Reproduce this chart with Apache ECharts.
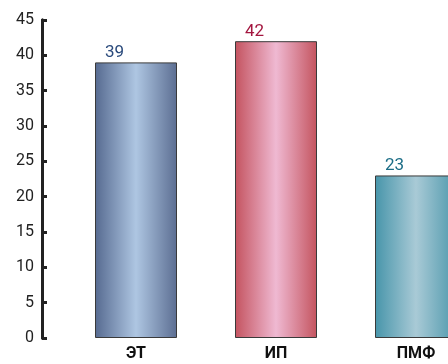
<!DOCTYPE html>
<html>
<head>
<meta charset="utf-8">
<script src="https://cdn.jsdelivr.net/npm/echarts@6/dist/echarts.min.js"></script>
<style>
  html, body { margin: 0; padding: 0; background: #fff; }
  #main { width: 448px; height: 364px; }
</style>
</head>
<body>
<div id="main"></div>
<script>
  var categories = ['ЭТ', 'ИП', 'ПМФ'];
  var values = [39, 42, 23];
  var yTicks = [0, 5, 10, 15, 20, 25, 30, 35, 40, 45];

  // edge / centre / edge colours for each bar, plus label colour
  var barColors = [
    ['#566a90', '#aec6e2', '#5c6e92'],
    ['#c4535f', '#efb9d2', '#c4545f'],
    ['#4795aa', '#a9cad6', '#4c97ab']
  ];
  var labelColors = ['#2a4a7c', '#a3163f', '#1b6d86'];

  function grad(c) {
    return new echarts.graphic.LinearGradient(0, 0, 1, 0, [
      { offset: 0, color: c[0] },
      { offset: 0.5, color: c[1] },
      { offset: 1, color: c[2] }
    ]);
  }

  var axisLineStyle = { color: '#222', width: 3 };

  var chart = echarts.init(document.getElementById('main'));
  chart.setOption({
    animation: false,
    grid: [
      { left: 66, top: 20, width: 420, height: 318, outerBoundsMode: 'none' },
      // thin grid that only carries the black y axis line + ticks
      { left: 42, top: 20, width: 1, height: 318, outerBoundsMode: 'none' }
    ],
    xAxis: [{
      type: 'category',
      data: categories,
      axisLine: { show: false },
      axisLabel: {
        color: '#111',
        fontSize: 16,
        fontWeight: 'bold',
        fontFamily: 'Roboto',
        margin: 8
      }
    }, {
      type: 'value',
      gridIndex: 1,
      show: false
    }],
    yAxis: [{
      type: 'value',
      min: yTicks[0],
      max: yTicks[yTicks.length - 1],
      interval: 5,
      offset: 24,
      splitLine: { show: false },
      axisLine: { show: true, lineStyle: axisLineStyle },
      axisTick: { show: true, inside: true, length: 5, lineStyle: axisLineStyle },
      axisLabel: { color: '#222', fontSize: 16, fontFamily: 'Roboto', margin: 8 }
    }, {
      type: 'value',
      gridIndex: 1,
      min: yTicks[0],
      max: yTicks[yTicks.length - 1],
      interval: 5,
      splitLine: { show: false },
      axisLine: { show: true, lineStyle: axisLineStyle },
      axisTick: { show: true, inside: true, length: 5, lineStyle: axisLineStyle },
      axisLabel: { show: false }
    }],
    series: [{
      type: 'bar',
      barWidth: 82,
      data: values.map(function (v, i) {
        return {
          value: v,
          itemStyle: { color: grad(barColors[i]), borderColor: '#3a3a3a', borderWidth: 1 },
          label: { color: labelColors[i] }
        };
      }),
      label: {
        show: true,
        position: [10, -1],
        align: 'left',
        verticalAlign: 'bottom',
        fontSize: 17,
        fontFamily: 'Roboto'
      }
    }]
  });
</script>
</body>
</html>
